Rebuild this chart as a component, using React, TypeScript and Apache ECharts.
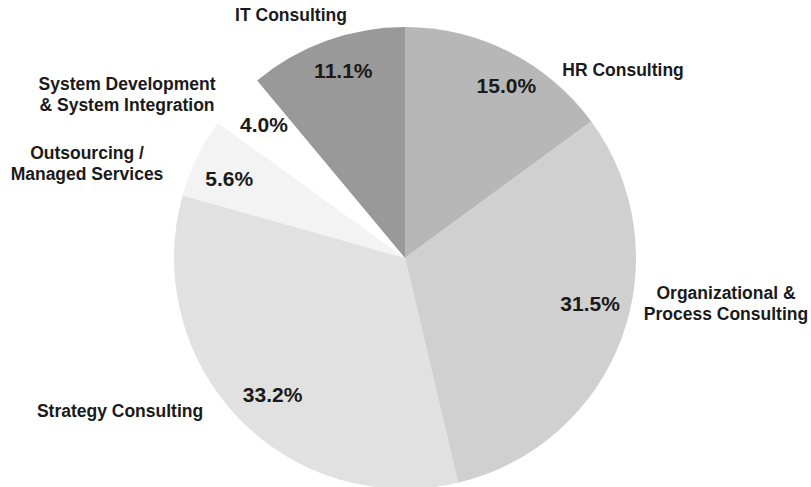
import React, { useEffect, useRef } from "react";
import * as echarts from "echarts";

const categories = [
  "HR Consulting",
  "Organizational &\nProcess Consulting",
  "Strategy Consulting",
  "Outsourcing /\nManaged Services",
  "System Development\n& System Integration",
  "IT Consulting",
];
const shares = [15.0, 31.5, 33.2, 5.6, 4.0, 11.1];
const percentLabels = ["15.0%", "31.5%", "33.2%", "5.6%", "4.0%", "11.1%"];
const sliceColors = ["#b7b7b7", "#cfd0cf", "#e1e1e1", "#f3f3f3", "#ffffff", "#999999"];
// name label anchor points (layout only)
const nameLabelPos: [number, number][] = [
  [623, 70],
  [726, 303],
  [120, 411],
  [87, 163],
  [127, 94],
  [291, 15],
];
// small nudges of the percentage labels (layout only)
const pctNudge: [number, number][] = [
  [14, 0],
  [4, -21],
  [7, 3],
  [-2, 5],
  [0, -2],
  [4, -6],
];

const FONT = "'Liberation Sans', Arial, Helvetica, sans-serif";

export default function App() {
  const ref = useRef<HTMLDivElement>(null);
  useEffect(() => {
    if (!ref.current) return;
    const chart = echarts.init(ref.current, null, { renderer: "svg" });
    chart.setOption({
      animation: false,
      backgroundColor: "#ffffff",
      series: [
        {
          type: "pie",
          center: [405, 258],
          radius: 231,
          startAngle: 90,
          clockwise: true,
          avoidLabelOverlap: false,
          silent: true,
          data: categories.map((c, i) => ({
            name: c,
            value: shares[i],
            itemStyle: { color: sliceColors[i] },
          })),
          itemStyle: { borderWidth: 0 },
          label: {
            show: true,
            position: "outside",
            formatter: "{b}",
            fontFamily: FONT,
            fontWeight: "bold",
            fontSize: 17.5,
            lineHeight: 21,
            color: "#1a1a1a",
            align: "center",
          },
          labelLine: { show: false },
          labelLayout: (p: any) => ({
            x: nameLabelPos[p.dataIndex][0],
            y: nameLabelPos[p.dataIndex][1],
            align: "center",
            verticalAlign: "middle",
          }),
        },
        {
          type: "pie",
          center: [405, 258],
          radius: [0, 380],
          startAngle: 90,
          clockwise: true,
          silent: true,
          avoidLabelOverlap: false,
          data: categories.map((c, i) => ({
            name: c,
            value: shares[i],
            itemStyle: { color: "rgba(0,0,0,0)" },
          })),
          label: {
            show: true,
            position: "inside",
            formatter: (p: any) => percentLabels[p.dataIndex],
            fontFamily: FONT,
            fontWeight: "bold",
            fontSize: 21,
            color: "#1a1a1a",
          },
          labelLine: { show: false },
          labelLayout: (p: any) => ({
            dx: pctNudge[p.dataIndex][0],
            dy: pctNudge[p.dataIndex][1],
          }),
        },
      ],
    });
    return () => chart.dispose();
  }, []);
  return (
    <div
      ref={ref}
      style={{ position: "absolute", left: 0, top: 0, width: 811, height: 487 }}
    />
  );
}
